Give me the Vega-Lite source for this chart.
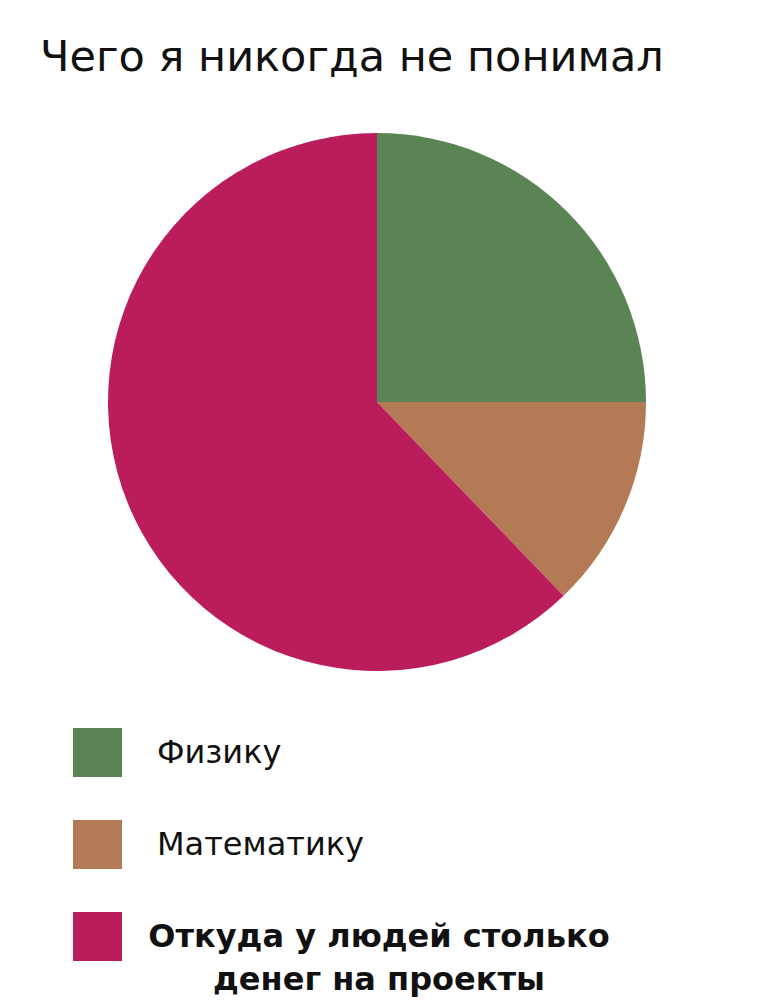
{
  "$schema": "https://vega.github.io/schema/vega-lite/v6.json",
  "autosize": {"type": "none"},
  "width": 754,
  "height": 804,
  "padding": {"top": 0, "left": 0, "right": 6, "bottom": 201},
  "background": "white",
  "title": {
    "text": "Чего я никогда не понимал",
    "anchor": "start",
    "frame": "group",
    "font": "DejaVu Sans",
    "fontSize": 43,
    "fontWeight": "normal",
    "color": "#111111",
    "baseline": "alphabetic",
    "offset": 0,
    "dx": 40,
    "dy": 114
  },
  "data": {
    "values": [
      {"topic": "Физику", "share": 25.0, "rank": 1},
      {"topic": "Математику", "share": 12.8, "rank": 2},
      {"topic": "Откуда у людей столько денег на проекты", "share": 62.2, "rank": 3}
    ]
  },
  "mark": {"type": "arc", "radius": 269},
  "encoding": {
    "theta": {"field": "share", "type": "quantitative"},
    "order": {"field": "rank", "type": "quantitative"},
    "color": {
      "field": "topic",
      "type": "nominal",
      "sort": ["Физику", "Математику", "Откуда у людей столько денег на проекты"],
      "scale": {
        "domain": ["Физику", "Математику", "Откуда у людей столько денег на проекты"],
        "range": ["#5a8453", "#b37a55", "#bb1c5c"]
      },
      "legend": {
        "title": null,
        "orient": "none",
        "legendX": 73,
        "legendY": 728,
        "direction": "vertical",
        "symbolType": "square",
        "symbolSize": 2401,
        "symbolStrokeWidth": 0,
        "symbolOpacity": 1,
        "labelFont": "DejaVu Sans",
        "labelFontSize": 32,
        "labelColor": "#111111",
        "labelOffset": 35,
        "labelLimit": 0,
        "rowPadding": 43,
        "padding": 0,
        "labelExpr": "datum.label == 'Откуда у людей столько денег на проекты' ? ['Откуда у людей столько', 'денег на проекты'] : datum.label",
        "encode": {
          "labels": {
            "update": {
              "fontWeight": {"signal": "datum.value == 'Откуда у людей столько денег на проекты' ? 'bold' : 'normal'"},
              "align": {"signal": "datum.value == 'Откуда у людей столько денег на проекты' ? 'center' : 'left'"},
              "dx": {"signal": "datum.value == 'Откуда у людей столько денег на проекты' ? 222 : 0"},
              "lineHeight": {"value": 43}
            }
          }
        }
      }
    }
  },
  "config": {
    "view": {"stroke": null},
    "font": "DejaVu Sans"
  }
}
